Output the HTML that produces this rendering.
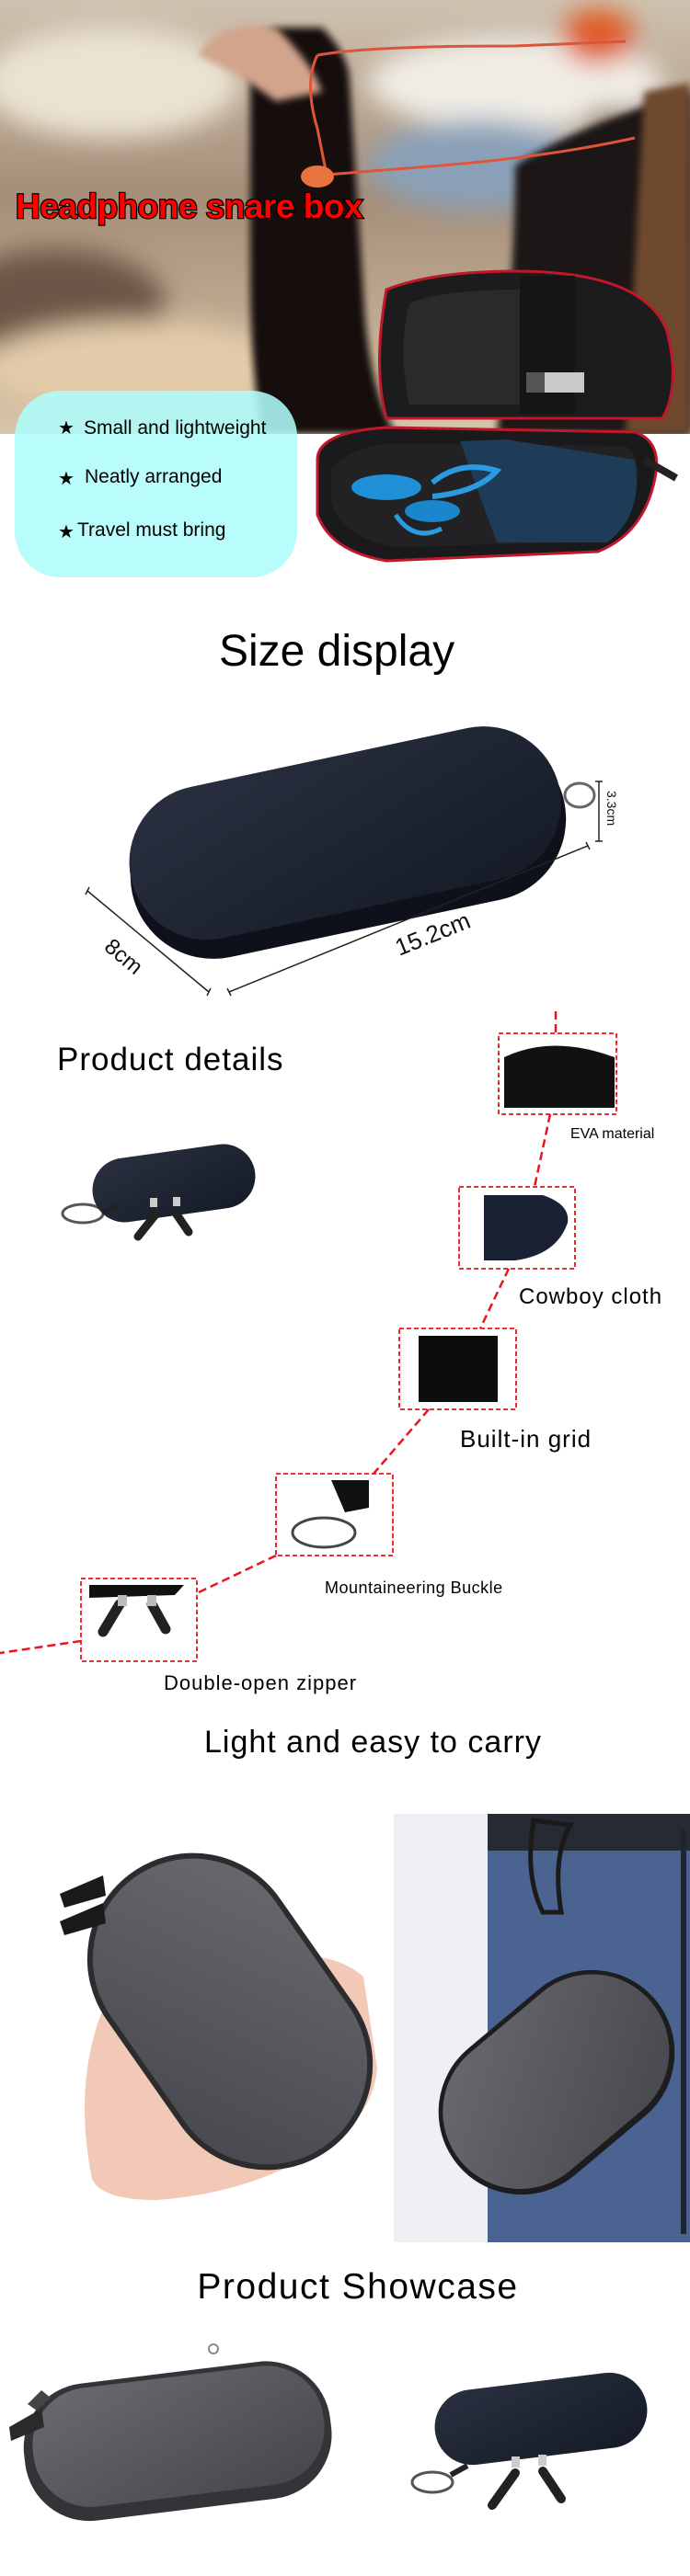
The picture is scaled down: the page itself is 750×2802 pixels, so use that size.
<!DOCTYPE html>
<html><head><meta charset="utf-8"><style>
html,body{margin:0;padding:0;background:#fff;}
svg{display:block;}
text{font-family:"Liberation Sans",Arial,sans-serif;}
</style></head><body>
<svg width="750" height="2802" viewBox="0 0 750 2802" xmlns="http://www.w3.org/2000/svg">
<defs>
<filter id="bl" x="-20%" y="-20%" width="140%" height="140%"><feGaussianBlur stdDeviation="14"/></filter>
<filter id="bl2"><feGaussianBlur stdDeviation="4"/></filter>
<linearGradient id="bg" x1="0" y1="0" x2="0" y2="1">
<stop offset="0" stop-color="#cfc2b0"/><stop offset="0.45" stop-color="#a58e78"/><stop offset="1" stop-color="#d8c4a8"/></linearGradient>
<linearGradient id="den" x1="0" y1="0" x2="1" y2="1"><stop offset="0" stop-color="#2a3040"/><stop offset="1" stop-color="#151a26"/></linearGradient>
<linearGradient id="gry" x1="0" y1="0" x2="1" y2="1"><stop offset="0" stop-color="#6a6b70"/><stop offset="1" stop-color="#45464b"/></linearGradient>
<clipPath id="topc"><rect x="0" y="0" width="750" height="472"/></clipPath>
</defs>

<!-- top photo -->
<g clip-path="url(#topc)">
<rect x="0" y="0" width="750" height="472" fill="url(#bg)"/>
<g filter="url(#bl)">
<ellipse cx="120" cy="90" rx="140" ry="60" fill="#ebe3d2"/>
<ellipse cx="60" cy="330" rx="120" ry="60" fill="#6c5646"/>
<ellipse cx="150" cy="400" rx="170" ry="50" fill="#e4ccaa"/>
<ellipse cx="560" cy="90" rx="160" ry="50" fill="#f1ede6"/>
<ellipse cx="520" cy="180" rx="120" ry="50" fill="#8aa0b8"/>
<rect x="640" y="120" width="110" height="350" fill="#7a5436"/>
<ellipse cx="650" cy="40" rx="40" ry="30" fill="#e05a20"/>
</g>
<path d="M272 90 Q265 40 300 30 L350 30 Q380 60 380 90 L395 320 Q400 420 430 472 L285 472 Q272 400 272 300 Z" fill="#121010" filter="url(#bl2)"/>
<path d="M215 60 Q240 20 300 30 Q340 70 350 100 L300 110 Q260 80 215 60Z" fill="#d2a48c" filter="url(#bl2)"/>
<path d="M560 180 Q620 140 750 100 L750 472 L540 472 Q560 300 560 180Z" fill="#1a1614" filter="url(#bl2)"/>
<path d="M700 100 L750 90 L750 472 L680 472 Z" fill="#6e4a2e" filter="url(#bl2)"/>
<path d="M345 60 Q330 90 345 140 L355 190 Q420 185 480 180 Q600 170 690 150" fill="none" stroke="#e0553a" stroke-width="3"/>
<path d="M345 60 Q400 50 560 50 L680 45" fill="none" stroke="#d8563e" stroke-width="3"/>
<ellipse cx="345" cy="192" rx="18" ry="12" fill="#e7733e"/>
</g>

<!-- open case -->
<g>
<path d="M420 315 Q470 295 560 295 Q700 295 725 360 Q740 420 720 455 L420 455 Q405 400 420 315Z" fill="#1c1c1e" stroke="#c0182a" stroke-width="3"/>
<path d="M445 330 Q480 315 565 315 L565 440 L445 440 Q432 380 445 330Z" fill="#2a2a2c"/>
<rect x="565" y="300" width="60" height="150" fill="#151515"/>
<rect x="590" y="405" width="45" height="22" fill="#c9c9c9"/>
<rect x="572" y="405" width="20" height="22" fill="#555"/>
<path d="M345 500 Q345 470 420 465 L690 470 Q720 480 712 520 Q700 580 650 600 L420 610 Q360 600 345 560 Z" fill="#1a1a1c" stroke="#c0182a" stroke-width="3"/>
<path d="M360 510 Q380 485 430 482 L680 485 Q700 500 690 540 Q670 580 620 590 L430 595 Q370 585 360 545Z" fill="#222224"/>
<path d="M500 480 L540 590 L660 590 Q700 560 690 500 L550 478Z" fill="#1e3b57"/>
<ellipse cx="420" cy="530" rx="38" ry="14" fill="#1f8fd6"/>
<ellipse cx="470" cy="556" rx="30" ry="12" fill="#1a86cc"/>
<path d="M470 525 Q500 500 540 512 Q520 535 470 540" fill="none" stroke="#2a9be0" stroke-width="6"/>
<path d="M430 560 Q450 590 480 575" fill="none" stroke="#2a9be0" stroke-width="5"/>
<path d="M700 500 L735 520" stroke="#222" stroke-width="8"/>
</g>

<text x="17" y="237" font-size="37" font-weight="bold" fill="#ff0000" stroke="#000" stroke-width="2.5" paint-order="stroke" letter-spacing="-0.5">Headphone snare box</text>

<!-- cyan box -->
<rect x="16" y="425" width="307" height="203" rx="50" fill="#aefcfc" fill-opacity="0.88"/>
<text x="63" y="472" font-size="20" fill="#000">★</text>
<text x="91" y="472" font-size="21" fill="#000">Small and lightweight</text>
<text x="63" y="527" font-size="20" fill="#000">★</text>
<text x="92" y="525" font-size="21" fill="#000">Neatly arranged</text>
<text x="63" y="585" font-size="20" fill="#000">★</text>
<text x="84" y="583" font-size="21" fill="#000">Travel must bring</text>

<!-- Size display -->
<text x="366" y="724" font-size="48" fill="#000" text-anchor="middle">Size display</text>
<ellipse cx="630" cy="865" rx="16" ry="13" fill="none" stroke="#666" stroke-width="3"/>
<g transform="rotate(-12 376 910)">
<rect x="136" y="832" width="480" height="180" rx="90" fill="#0e1119"/>
<rect x="138" y="822" width="476" height="168" rx="84" fill="url(#den)"/>
</g>
<g stroke="#222" stroke-width="1.5" fill="none">
<path d="M95 969 L227 1079"/><path d="M93 973 L97 965"/><path d="M225 1083 L229 1075"/>
<path d="M249 1079 L639 920"/><path d="M247 1075 L251 1083"/><path d="M637 916 L641 924"/>
<path d="M651 850 L651 915"/><path d="M647 850 L655 850"/><path d="M647 915 L655 915"/>
</g>
<text x="0" y="0" font-size="24" fill="#111" transform="translate(112,1032) rotate(40)">8cm</text>
<text x="0" y="0" font-size="26" fill="#111" transform="translate(434,1040) rotate(-22)">15.2cm</text>
<text x="0" y="0" font-size="14" fill="#111" transform="translate(660,860) rotate(90)">3.3cm</text>

<!-- Product details -->
<text x="62" y="1164" font-size="35" fill="#000" letter-spacing="1">Product details</text>
<ellipse cx="90" cy="1320" rx="22" ry="10" fill="none" stroke="#555" stroke-width="3"/>
<rect x="100" y="1252" width="178" height="70" rx="35" fill="url(#den)" transform="rotate(-8 189 1287)"/>
<path d="M170 1320 L150 1345" stroke="#222" stroke-width="9" stroke-linecap="round"/>
<path d="M190 1318 L205 1340" stroke="#222" stroke-width="9" stroke-linecap="round"/>
<rect x="163" y="1303" width="8" height="10" fill="#ccc"/><rect x="188" y="1302" width="8" height="10" fill="#ccc"/>
<path d="M112 1318 L130 1312" stroke="#222" stroke-width="6"/>

<!-- dashed connector -->
<path d="M604 1100 L604 1124 M598 1212 L581 1291 M553 1380 L522 1445 M466 1533 L406 1603 M300 1692 L214 1733 M88 1785 L0 1798" fill="none" stroke="#e8141e" stroke-width="2.5" stroke-dasharray="9 5"/>

<g fill="none" stroke="#e8141e" stroke-width="1.8" stroke-dasharray="5 3">
<rect x="542" y="1124" width="128" height="88"/>
<rect x="499" y="1291" width="126" height="89"/>
<rect x="434" y="1445" width="127" height="88"/>
<rect x="300" y="1603" width="127" height="89"/>
<rect x="88" y="1717" width="126" height="90"/>
</g>
<path d="M548 1205 L548 1150 Q600 1125 668 1150 L668 1205Z" fill="#111"/>
<path d="M526 1300 L590 1300 Q620 1310 617 1330 Q605 1365 560 1371 L526 1371Z" fill="#1b2134"/>
<rect x="455" y="1453" width="86" height="72" fill="#0c0c0c"/>
<path d="M360 1610 L401 1610 L401 1640 L375 1645Z" fill="#111"/>
<ellipse cx="352" cy="1667" rx="34" ry="16" fill="none" stroke="#444" stroke-width="3"/>
<path d="M97 1724 L200 1724 L190 1735 L97 1738Z" fill="#111"/>
<path d="M130 1745 L112 1775" stroke="#222" stroke-width="11" stroke-linecap="round"/>
<path d="M165 1745 L180 1772" stroke="#222" stroke-width="11" stroke-linecap="round"/>
<rect x="128" y="1735" width="10" height="12" fill="#bbb"/><rect x="160" y="1735" width="10" height="12" fill="#bbb"/>

<text x="620" y="1238" font-size="16" fill="#000">EVA material</text>
<text x="564" y="1418" font-size="24" fill="#000" letter-spacing="1">Cowboy cloth</text>
<text x="500" y="1574" font-size="26" fill="#000" letter-spacing="1">Built-in grid</text>
<text x="353" y="1733" font-size="18" fill="#000" letter-spacing="0.5">Mountaineering Buckle</text>
<text x="178" y="1838" font-size="22" fill="#000" letter-spacing="1">Double-open zipper</text>
<text x="222" y="1906" font-size="34" fill="#000" letter-spacing="1">Light and easy to carry</text>

<!-- hand photo -->
<path d="M100 2370 Q80 2270 110 2190 L300 2130 Q360 2120 395 2150 L410 2250 Q405 2300 360 2330 Q280 2385 170 2393 Q110 2393 100 2370Z" fill="#f2c9b6"/>
<g transform="rotate(55 250 2188)">
<rect x="65" y="2073" width="370" height="230" rx="115" fill="#2c2c2e"/>
<rect x="71" y="2079" width="358" height="218" rx="109" fill="url(#gry)"/>
</g>
<path d="M112 2040 L65 2060 L70 2075 L115 2062Z" fill="#1a1a1a"/>
<path d="M112 2070 L65 2090 L70 2105 L115 2092Z" fill="#1a1a1a"/>

<!-- bag photo -->
<rect x="428" y="1973" width="322" height="466" fill="#eef0f3"/>
<rect x="530" y="1973" width="220" height="466" fill="#4b6390"/>
<rect x="530" y="1973" width="220" height="40" fill="#252a33"/>
<path d="M580 1980 Q570 2040 590 2080 L610 2080 Q600 2020 620 1985Z" fill="none" stroke="#1a1a1a" stroke-width="5"/>
<g transform="rotate(-40 605 2265)">
<rect x="465" y="2175" width="280" height="180" rx="90" fill="#1d1d1f"/>
<rect x="470" y="2180" width="270" height="168" rx="84" fill="url(#gry)"/>
</g>
<rect x="740" y="1990" width="6" height="440" fill="#1f2430"/>

<text x="389" y="2500" font-size="39" fill="#000" text-anchor="middle" letter-spacing="1.5">Product Showcase</text>

<!-- bottom left -->
<g transform="rotate(-7 195 2650)">
<rect x="25" y="2580" width="335" height="150" rx="70" fill="#333438"/>
<rect x="35" y="2585" width="318" height="130" rx="62" fill="url(#gry)"/>
</g>
<path d="M45 2620 L10 2640 L12 2655 L48 2640Z" fill="#2a2a2a"/>
<path d="M45 2600 L30 2615 L40 2622 L55 2608Z" fill="#444"/>
<circle cx="232" cy="2555" r="5" fill="none" stroke="#888" stroke-width="2"/>

<!-- bottom right -->
<ellipse cx="470" cy="2700" rx="22" ry="11" fill="none" stroke="#555" stroke-width="3"/>
<rect x="472" y="2590" width="232" height="82" rx="41" fill="url(#den)" transform="rotate(-7 588 2631)"/>
<path d="M560 2690 L535 2725" stroke="#222" stroke-width="10" stroke-linecap="round"/>
<path d="M590 2688 L610 2718" stroke="#222" stroke-width="10" stroke-linecap="round"/>
<rect x="556" y="2672" width="9" height="12" fill="#ccc"/><rect x="585" y="2670" width="9" height="12" fill="#ccc"/>
<path d="M490 2692 L508 2682" stroke="#222" stroke-width="6"/>
</svg>
</body></html>
